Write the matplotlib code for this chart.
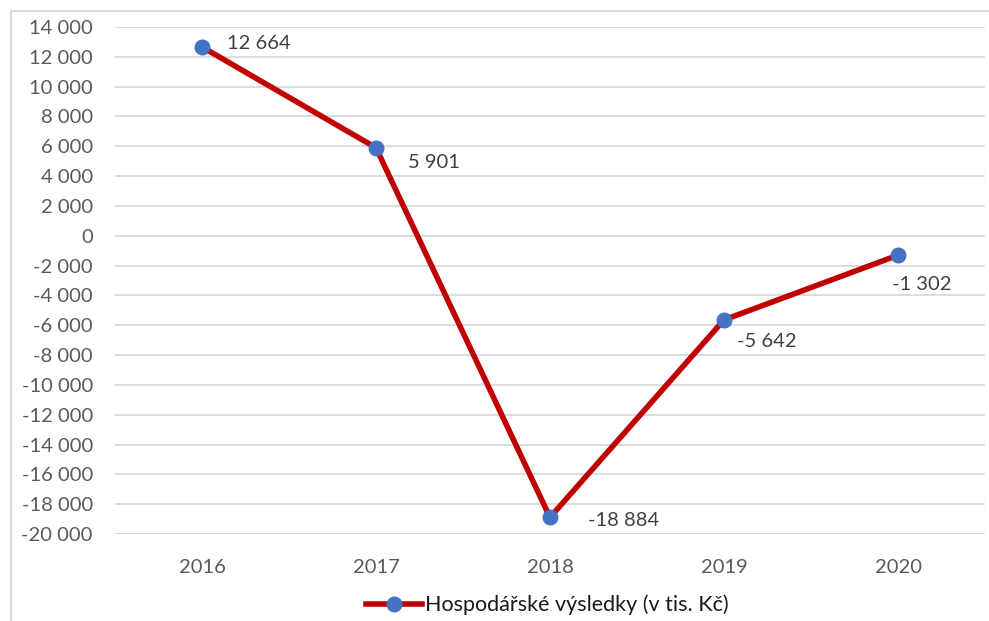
import matplotlib.pyplot as plt
from matplotlib.patches import Rectangle
from matplotlib.ticker import FuncFormatter, MultipleLocator

plt.rcParams['font.family'] = ['Lato', 'DejaVu Sans']

# Data
years = ["2016", "2017", "2018", "2019", "2020"]
values = [12664, 5901, -18884, -5642, -1302]
series_label = "Hospodářské výsledky (v tis. Kč)"

# label offsets (pixels) relative to the point, and alignment
label_offsets = [(25, 3, "left"), (32, -15, "left"), (38, -3, "left"),
                 (13, -22, "left"), (24, -29, "center")]

LINE_COLOR = "#C00000"
MARKER_COLOR = "#4472C4"
TEXT_COLOR = "#595959"
GRID_COLOR = "#D9D9D9"
FS = 14.5


def fmt_space(v, pos=None):
    s = f"{abs(int(round(v))):,}".replace(",", " ")
    return ("-" if v < 0 else "") + s


fig = plt.figure(figsize=(9.89, 6.21), dpi=100)
ax = fig.add_axes([115 / 989, 87 / 621, 870 / 989, 507 / 621])

x = list(range(len(years)))
line, = ax.plot(x, values, color=LINE_COLOR, linewidth=4,
                marker="o", markersize=10.5, markerfacecolor=MARKER_COLOR,
                markeredgecolor=MARKER_COLOR, label=series_label, zorder=3)

for xi, v, (dx, dy, ha) in zip(x, values, label_offsets):
    ax.annotate(fmt_space(v), (xi, v), xytext=(dx, dy),
                textcoords="offset pixels", ha=ha, va="center",
                fontsize=FS, color="#404040")

ax.set_xlim(-0.5, len(years) - 0.5)
ax.set_ylim(-20000, 14000)
ax.yaxis.set_major_locator(MultipleLocator(2000))
ax.yaxis.set_major_formatter(FuncFormatter(fmt_space))
ax.set_xticks(x)
ax.set_xticklabels(years)

ax.grid(axis="y", color=GRID_COLOR, linewidth=1.3)
ax.set_axisbelow(True)
for s in ax.spines.values():
    s.set_visible(False)
ax.tick_params(axis="both", length=0, labelsize=FS, labelcolor=TEXT_COLOR)
ax.tick_params(axis="y", pad=16)
ax.tick_params(axis="x", pad=18)

leg = fig.legend(handles=[line], loc="center", bbox_to_anchor=(547 / 989, 1 - 605 / 621),
                 frameon=False, fontsize=15.5, handlelength=2.6, handletextpad=0.15)
for t in leg.get_texts():
    t.set_color("#1a1a1a")

# outer chart border
fig.patches.append(Rectangle((11 / 989, -0.05), 1.2, 1 - 11 / 621 + 0.05,
                             transform=fig.transFigure, fill=False,
                             edgecolor="#D9D9D9", linewidth=1.5))

fig.savefig("out.png", dpi=100)
